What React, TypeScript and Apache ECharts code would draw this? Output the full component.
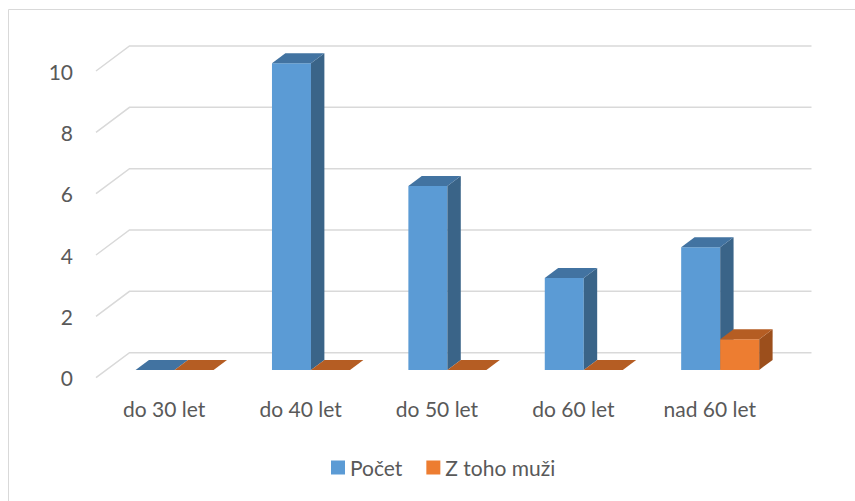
import React, { useEffect, useRef } from "react";
import * as echarts from "echarts";

const categories = ["do 30 let", "do 40 let", "do 50 let", "do 60 let", "nad 60 let"];
const pocet = [0, 10, 6, 3, 4];
const muzi = [0, 0, 0, 0, 1];
const yTicks = [0, 2, 4, 6, 8, 10];

const FONT = "Lato, 'Open Sans', sans-serif";
const TEXT = "#595959";
const DX = 33.5;
const DY = -25;
const Z0 = 0.31;
const Z1 = 0.71;
const BAR_FRAC = 0.286;

const palette = [
  { front: "#5B9BD5", side: "#3A6488", top: "#4273A1" },
  { front: "#ED7D31", side: "#9C4F1C", top: "#B55D23" },
];

function barRenderer(k: number) {
  return (params: any, api: any) => {
    const ci = api.value(0);
    const v = api.value(1);
    const base = api.coord([ci, 0]);
    const topP = api.coord([ci, v]);
    const bw = api.size([1, 0])[0];
    const w = bw * BAR_FRAC;
    const xl = base[0] + (k === 0 ? -w : 0) + Z0 * DX;
    const xr = xl + w;
    const yb = base[1] + Z0 * DY;
    const yt = topP[1] + Z0 * DY;
    const ddx = (Z1 - Z0) * DX;
    const ddy = (Z1 - Z0) * DY;
    const c = palette[k];
    return {
      type: "group",
      children: [
        {
          type: "polygon",
          shape: { points: [[xl, yb], [xr, yb], [xr, yt], [xl, yt]] },
          style: { fill: c.front },
        },
        {
          type: "polygon",
          shape: { points: [[xr, yb], [xr + ddx, yb + ddy], [xr + ddx, yt + ddy], [xr, yt]] },
          style: { fill: c.side },
        },
        {
          type: "polygon",
          shape: { points: [[xl, yt], [xr, yt], [xr + ddx, yt + ddy], [xl + ddx, yt + ddy]] },
          style: { fill: c.top },
        },
      ],
    };
  };
}

function wallRenderer(params: any, api: any) {
  const v = api.value(1);
  const p0 = api.coord([0, v]);
  const pN = api.coord([categories.length - 1, v]);
  const bw = api.size([1, 0])[0];
  const xL = p0[0] - bw / 2;
  const xR = pN[0] + bw / 2;
  const y = p0[1];
  return {
    type: "polyline",
    shape: { points: [[xL, y], [xL + DX, y + DY], [xR + DX, y + DY]] },
    style: { stroke: "#D9D9D9", lineWidth: 1.5, fill: "none" },
  };
}

export default function App() {
  const ref = useRef<HTMLDivElement>(null);
  useEffect(() => {
    if (!ref.current) return;
    const chart = echarts.init(ref.current, undefined, { renderer: "svg" });
    chart.setOption({
      animation: false,
      backgroundColor: "#ffffff",
      textStyle: { fontFamily: FONT },
      graphic: [
        {
          type: "rect",
          shape: { x: 8.5, y: 9.5, width: 1000, height: 1000 },
          style: { fill: "none", stroke: "#D9D9D9", lineWidth: 1 },
          silent: true,
        },
      ],
      legend: {
        data: ["Počet", "Z toho muži"],
        left: 326,
        top: 452,
        icon: "rect",
        itemWidth: 14,
        itemHeight: 14,
        itemGap: 24,
        textStyle: { color: TEXT, fontSize: 21, fontFamily: FONT },
      },
      grid: { left: 96, right: 77, top: 71, bottom: 123.3 },
      xAxis: {
        type: "category",
        data: categories,
        axisLine: { show: false },
        axisTick: { show: false },
        axisLabel: { color: TEXT, fontSize: 21, fontFamily: FONT, margin: 20 },
      },
      yAxis: {
        type: "value",
        min: 0,
        max: 10,
        interval: 2,
        splitLine: { show: false },
        axisLine: { show: false },
        axisTick: { show: false },
        axisLabel: { color: TEXT, fontSize: 21, fontFamily: FONT, margin: 23 },
      },
      series: [
        {
          type: "custom",
          silent: true,
          clip: false,
          renderItem: wallRenderer,
          data: yTicks.map((v) => [0, v]),
          encode: { x: 0, y: 1 },
          z: 1,
        },
        {
          name: "Počet",
          type: "custom",
          clip: false,
          renderItem: barRenderer(0),
          itemStyle: { color: palette[0].front },
          data: pocet.map((v, i) => [i, v]),
          encode: { x: 0, y: 1 },
          z: 2,
        },
        {
          name: "Z toho muži",
          type: "custom",
          clip: false,
          renderItem: barRenderer(1),
          itemStyle: { color: palette[1].front },
          data: muzi.map((v, i) => [i, v]),
          encode: { x: 0, y: 1 },
          z: 3,
        },
      ],
    });
    return () => chart.dispose();
  }, []);
  return (
    <div
      ref={ref}
      style={{ position: "absolute", left: 0, top: 0, width: 855, height: 501 }}
    />
  );
}
